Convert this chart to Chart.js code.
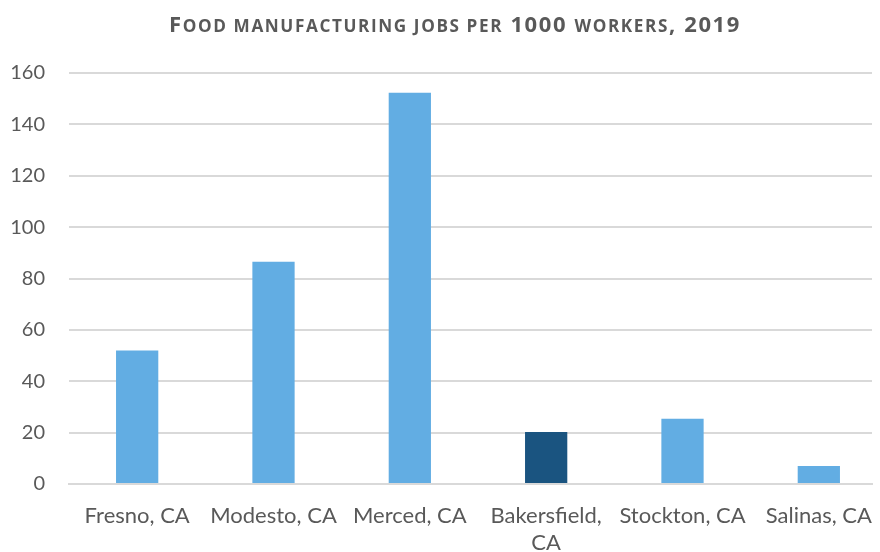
<!DOCTYPE html>
<html>
<head>
<meta charset="utf-8">
<script src="https://cdn.jsdelivr.net/npm/chart.js@4/dist/chart.umd.min.js"></script>
<style>
    html, body { margin: 0; padding: 0; background: #ffffff; }
    #wrap { position: relative; width: 880px; height: 552px; }
    #chartTitle {
        position: absolute;
        top: 8px;
        left: 0;
        width: 910px;
        text-align: center;
        font-family: "Open Sans", sans-serif;
        font-weight: bold;
        font-size: 22px;
        line-height: 30px;
        letter-spacing: 1.6px;
        text-transform: uppercase;
        color: #595959;
        white-space: nowrap;
    }
    #chartTitle .sc { font-size: 0.78em; }
    canvas { position: absolute; left: 0; top: 0; }
</style>
</head>
<body>
<div id="wrap">
    <canvas id="jobsChart" width="880" height="552"></canvas>
    <div id="chartTitle">F<span class="sc">ood manufacturing jobs per</span> 1000 <span class="sc">workers</span>, 2019</div>
</div>
<script>
// ========================================
// Food manufacturing jobs per 1000 workers
// ========================================

const cities = ['Fresno, CA', 'Modesto, CA', 'Merced, CA', ['Bakersfield,', 'CA'], 'Stockton, CA', 'Salinas, CA'];
const jobsPer1000 = [52, 86.5, 152.3, 20.2, 25.4, 7];
const yTicks = [0, 20, 40, 60, 80, 100, 120, 140, 160];

// Bakersfield is highlighted in the darker blue
const barColors = cities.map(c => Array.isArray(c) ? '#1A5480' : '#62ADE3');

const textColor = '#595959';
const gridColor = '#D9D9D9';
const fontFamily = 'Lato, sans-serif';

new Chart(document.getElementById('jobsChart'), {
    type: 'bar',
    data: {
        labels: cities,
        datasets: [{
            data: jobsPer1000,
            backgroundColor: barColors,
            borderWidth: 0,
            barPercentage: 0.62,
            categoryPercentage: 0.5
        }]
    },
    options: {
        responsive: false,
        animation: false,
        layout: {
            padding: { left: 0, right: 8, top: 73, bottom: 0 }
        },
        plugins: {
            legend: { display: false },
            tooltip: { enabled: false }
        },
        scales: {
            x: {
                grid: { display: false, drawTicks: false },
                border: { color: gridColor, width: 2 },
                ticks: {
                    color: textColor,
                    padding: 18,
                    maxRotation: 0,
                    autoSkip: false,
                    font: { family: fontFamily, size: 22, lineHeight: 1.23 }
                },
                afterFit: function (scale) {
                    scale.height = 68;
                    scale.paddingLeft = 0;
                    scale.paddingRight = 0;
                },
                // categories run a little wider than the gridlines on the right
                afterBuildTicks: function (scale) {
                    scale._startValue = -0.5;
                    scale._valueRange = 5.89;
                }
            },
            y: {
                min: 0,
                max: 160,
                afterBuildTicks: function (scale) {
                    scale.ticks = yTicks.map(v => ({ value: v }));
                },
                grid: { color: gridColor, lineWidth: 2, drawTicks: false },
                border: { display: false },
                ticks: {
                    color: textColor,
                    padding: 24,
                    font: { family: fontFamily, size: 20 }
                },
                afterFit: function (scale) { scale.width = 69; }
            }
        }
    }
});
</script>
</body>
</html>
